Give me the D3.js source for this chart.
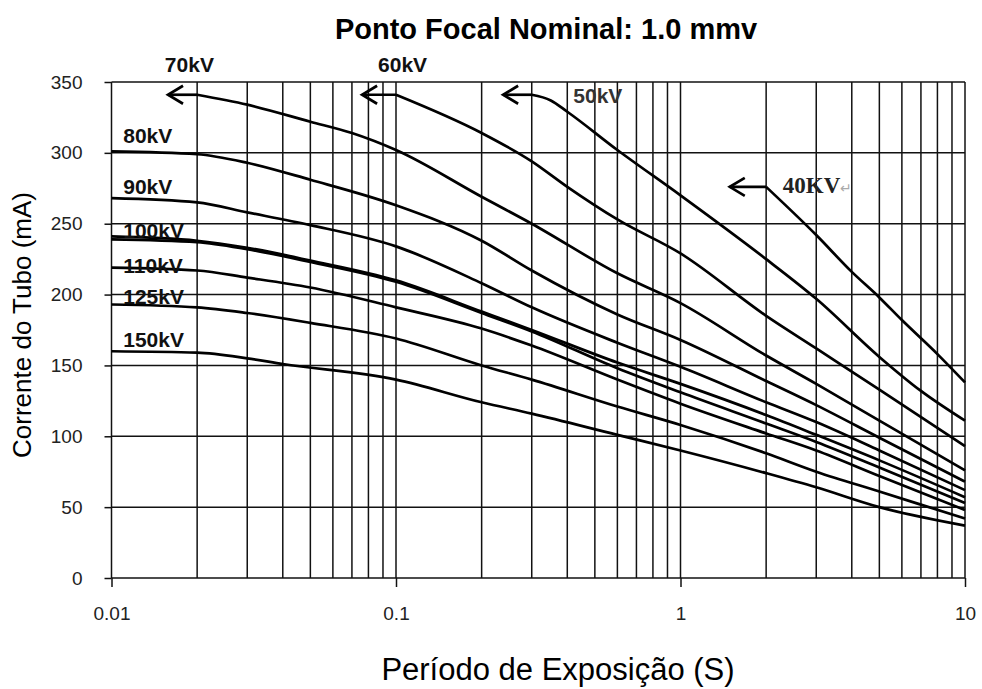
<!DOCTYPE html>
<html>
<head>
<meta charset="utf-8">
<script src="https://cdn.jsdelivr.net/npm/d3@7"></script>
<style>
  body { margin: 0; background: #fff; }
  text { font-family: "Liberation Sans", Arial, sans-serif; }
</style>
</head>
<body>
<div id="chart"></div>
<script>
// tube current (mA) vs exposure time (s)
const kv40  = [[2, 276], [3, 242], [4, 216], [5, 198], [6, 182], [8, 158], [10, 138]];
const kv50  = [[0.3, 341], [0.35, 337], [0.4, 329], [0.6, 302], [1, 270], [2, 225], [3, 197], [5, 156], [7, 132], [10, 111]];
const kv60  = [[0.1, 341], [0.2, 314], [0.3, 294], [0.4, 276], [0.6, 253], [1, 229], [2, 185], [3, 162], [5, 133], [10, 93]];
const kv70  = [[0.02, 341], [0.03, 334], [0.05, 322], [0.07, 314], [0.1, 302], [0.2, 269], [0.3, 250], [0.6, 215], [1, 194], [2, 157], [3, 137], [5, 111], [10, 76]];
const kv80  = [[0.01, 301], [0.02, 299], [0.03, 293], [0.05, 281], [0.1, 263], [0.2, 238], [0.3, 217], [0.6, 186], [1, 168], [2, 139], [3, 122], [5, 99], [10, 68]];
const kv90  = [[0.01, 268], [0.02, 265], [0.03, 258], [0.05, 249], [0.1, 234], [0.2, 208], [0.3, 191], [0.6, 166], [1, 149], [2, 124], [3, 110], [5, 90], [10, 62]];
const kv100 = [[0.01, 241], [0.02, 238], [0.03, 233], [0.05, 224], [0.1, 210], [0.2, 188], [0.3, 175], [0.6, 152], [1, 137], [2, 115], [3, 101], [5, 83], [10, 57]];
const kv100b = [[0.01, 239], [0.02, 237], [0.03, 232], [0.05, 223], [0.1, 209], [0.2, 187], [0.3, 174], [0.6, 148], [1, 131], [2, 109], [3, 96], [5, 78], [10, 53]];
const kv110 = [[0.01, 219], [0.02, 217], [0.03, 212], [0.05, 205], [0.1, 191], [0.2, 176], [0.3, 164], [0.6, 140], [1, 123], [2, 102], [3, 90], [5, 72], [10, 48]];
const kv125 = [[0.01, 193], [0.02, 191], [0.03, 187], [0.05, 180], [0.1, 169], [0.2, 150], [0.3, 140], [0.6, 121], [1, 108], [2, 88], [3, 75], [5, 61], [10, 42]];
const kv150 = [[0.01, 160], [0.02, 159], [0.03, 155], [0.04, 151], [0.1, 140], [0.2, 124], [0.3, 116], [0.6, 101], [1, 90], [2, 74], [3, 64], [5, 50], [10, 37]];

const allSeries = [kv40, kv50, kv60, kv70, kv80, kv90, kv100, kv100b, kv110, kv125, kv150];

// curves that start with a horizontal arrow pointing left, and where the arrow tip sits
const arrowSeries = [kv70, kv60, kv50, kv40];
const arrowTips = [0.0158, 0.076, 0.238, 1.49];

// kV labels: text, time at left edge, mA at baseline
const labelText = ["70kV", "60kV", "50kV", "80kV", "90kV", "100kV", "110kV", "125kV", "150kV"];
const labelTime = [0.0154, 0.0865, 0.42, 0.011, 0.011, 0.011, 0.011, 0.011, 0.011];
const labelMA   = [357, 357, 335, 307, 271, 240, 215, 193, 163];

const xTicks = [0.01, 0.1, 1, 10];
const xTickLabels = ["0.01", "0.1", "1", "10"];
const yTicks = [0, 50, 100, 150, 200, 250, 300, 350];

const W = 982, H = 689;
const margin = { top: 82, right: 965, bottom: 578, left: 111.5 };

const svg = d3.select("#chart").append("svg")
    .attr("width", W)
    .attr("height", H);

const x = d3.scaleLog().domain([0.01, 10]).range([margin.left, margin.right]);
const y = d3.scaleLinear().domain([0, 350]).range([margin.bottom, margin.top]);

// grid
const grid = svg.append("g").attr("stroke", "#111").attr("stroke-width", 1.5);

grid.selectAll(".vgrid")
    .data(x.ticks())
  .enter().append("line")
    .attr("x1", d => x(d)).attr("x2", d => x(d))
    .attr("y1", margin.top).attr("y2", margin.bottom);

grid.selectAll(".hgrid")
    .data(yTicks)
  .enter().append("line")
    .attr("x1", margin.left).attr("x2", margin.right)
    .attr("y1", d => y(d)).attr("y2", d => y(d));

// axes
const yAxis = svg.append("g")
    .attr("transform", "translate(" + margin.left + ",0)")
    .call(d3.axisLeft(y).tickValues(yTicks).tickSize(7).tickPadding(22));

const xAxis = svg.append("g")
    .attr("transform", "translate(0," + margin.bottom + ")")
    .call(d3.axisBottom(x).tickValues(xTicks).tickFormat((d, i) => xTickLabels[i]).tickSize(9).tickPadding(20));

[yAxis, xAxis].forEach(a => {
    a.select(".domain").remove();
    a.selectAll(".tick line").attr("stroke", "#111").attr("stroke-width", 1.5);
    a.selectAll(".tick text")
        .attr("fill", "#222")
        .style("font-size", "19px")
        .style("font-family", "'Liberation Sans', Arial, sans-serif");
});

// curves
const line = d3.line()
    .x(d => x(d[0]))
    .y(d => y(d[1]))
    .curve(d3.curveMonotoneX);

svg.selectAll(".curve")
    .data(allSeries)
  .enter().append("path")
    .attr("class", "curve")
    .attr("d", line)
    .attr("fill", "none")
    .attr("stroke", "#000")
    .attr("stroke-width", 2.7);

// arrows
arrowSeries.forEach((s, i) => {
    const x0 = x(s[0][0]), y0 = y(s[0][1]), xt = x(arrowTips[i]);
    svg.append("line")
        .attr("x1", x0).attr("x2", xt)
        .attr("y1", y0).attr("y2", y0)
        .attr("stroke", "#000").attr("stroke-width", 2.7);
    svg.append("path")
        .attr("d", "M" + (xt + 15) + "," + (y0 - 9) + "L" + xt + "," + y0 + "L" + (xt + 15) + "," + (y0 + 9))
        .attr("fill", "none")
        .attr("stroke", "#000")
        .attr("stroke-width", 2.7);
});

// kV labels
svg.selectAll(".kvlabel")
    .data(labelText)
  .enter().append("text")
    .attr("x", (d, i) => x(labelTime[i]))
    .attr("y", (d, i) => y(labelMA[i]))
    .attr("fill", (d, i) => i === 2 ? "#333" : "#111")
    .style("font-size", "21px")
    .style("font-weight", "bold")
    .text(d => d);

svg.append("text")
    .attr("x", x(2.29))
    .attr("y", y(272))
    .style("font-family", "'Liberation Serif', 'Times New Roman', serif")
    .style("font-size", "23px")
    .style("font-weight", "bold")
    .attr("fill", "#222")
    .text("40KV")
  .append("tspan")
    .attr("fill", "#aaa")
    .style("font-size", "14px")
    .style("font-weight", "normal")
    .text("\u21B5");

// titles
svg.append("text")
    .attr("x", 546)
    .attr("y", 39)
    .attr("text-anchor", "middle")
    .style("font-size", "29px")
    .style("font-weight", "bold")
    .text("Ponto Focal Nominal: 1.0 mmv");

svg.append("text")
    .attr("x", 558)
    .attr("y", 680)
    .attr("text-anchor", "middle")
    .style("font-size", "31px")
    .text("Período de Exposição (S)");

svg.append("text")
    .attr("transform", "translate(31,325) rotate(-90)")
    .attr("text-anchor", "middle")
    .style("font-size", "26px")
    .text("Corrente do Tubo (mA)");
</script>
</body>
</html>
